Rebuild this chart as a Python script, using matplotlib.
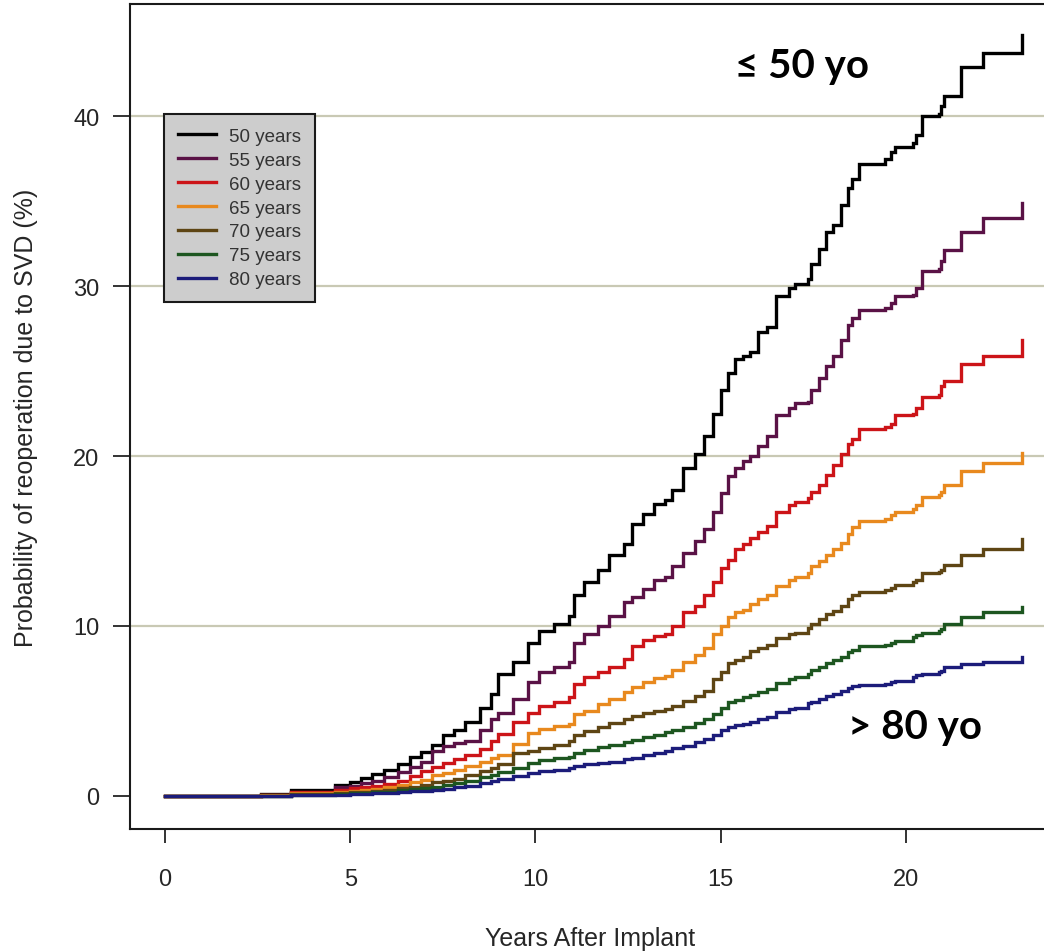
import matplotlib
matplotlib.use("Agg")
import matplotlib.pyplot as plt

# event times (years after implant) shared by all age curves
years = [0, 2.6, 3.4, 4.6, 5.0, 5.3, 5.6, 5.9, 6.3, 6.6,
         6.9, 7.2, 7.5, 7.8, 8.1, 8.5, 8.8, 9.0, 9.4, 9.8,
         10.1, 10.5, 10.9, 11.05, 11.3, 11.7, 12.0, 12.4, 12.6, 12.9,
         13.2, 13.5, 13.7, 14.0, 14.3, 14.55, 14.8, 15.0, 15.2, 15.4,
         15.6, 15.8, 16.0, 16.25, 16.5, 16.85, 17.0, 17.35, 17.45, 17.65,
         17.85, 18.05, 18.25, 18.45, 18.55, 18.75, 19.45, 19.6, 19.7, 20.2,
         20.27, 20.45, 20.9, 20.95, 21.05, 21.5, 22.1, 23.15]

age50 = [0, 0.1, 0.35, 0.65, 0.8, 1.05, 1.3, 1.55, 1.9, 2.3,
         2.6, 3.0, 3.6, 3.9, 4.35, 5.2, 6.0, 7.2, 7.9, 9.0,
         9.7, 10.1, 10.6, 11.8, 12.6, 13.3, 14.2, 14.8, 16.0, 16.6,
         17.2, 17.4, 18.0, 19.3, 20.1, 21.2, 22.5, 23.9, 24.9, 25.7,
         25.9, 26.1, 27.3, 27.6, 29.4, 29.9, 30.1, 30.4, 31.3, 32.2,
         33.2, 33.6, 34.8, 35.8, 36.3, 37.2, 37.5, 37.9, 38.2, 38.4,
         38.9, 40.0, 40.1, 40.6, 41.2, 42.9, 43.7, 44.8]

age55 = [0, 0.05, 0.25, 0.5, 0.6, 0.75, 0.9, 1.1, 1.4, 1.7,
         2.0, 2.65, 2.95, 3.1, 3.25, 3.9, 4.5, 4.9, 5.7, 6.7,
         7.3, 7.6, 7.9, 9.0, 9.5, 10.0, 10.6, 11.4, 11.7, 12.2,
         12.7, 12.9, 13.5, 14.3, 15.0, 15.7, 16.7, 17.8, 18.8, 19.3,
         19.7, 20.0, 20.6, 21.2, 22.4, 22.8, 23.1, 23.2, 23.9, 24.6,
         25.3, 25.9, 26.8, 27.7, 28.1, 28.6, 28.7, 29.0, 29.4, 29.5,
         29.9, 30.9, 31.0, 31.5, 32.1, 33.2, 34.0, 34.9]

age60 = [0, 0.05, 0.2, 0.35, 0.45, 0.5, 0.6, 0.7, 0.9, 1.15,
         1.45, 1.7, 1.95, 2.15, 2.4, 2.75, 3.2, 3.65, 4.35, 4.9,
         5.3, 5.5, 5.8, 6.6, 7.0, 7.3, 7.6, 8.05, 8.8, 9.2,
         9.4, 9.5, 10.0, 10.8, 11.2, 11.8, 12.6, 13.4, 13.9, 14.5,
         14.8, 15.2, 15.5, 15.9, 16.7, 17.1, 17.3, 17.5, 17.9, 18.3,
         18.9, 19.5, 20.1, 20.7, 21.0, 21.6, 21.7, 21.9, 22.4, 22.5,
         22.8, 23.5, 23.6, 24.1, 24.4, 25.4, 25.9, 26.8]

age65 = [0, 0.03, 0.15, 0.25, 0.3, 0.35, 0.42, 0.5, 0.65, 0.8,
         0.95, 1.2, 1.35, 1.5, 1.75, 2.0, 2.2, 2.4, 3.05, 3.7,
         3.95, 4.1, 4.25, 4.8, 5.0, 5.4, 5.7, 6.1, 6.4, 6.7,
         6.95, 7.05, 7.4, 7.9, 8.3, 8.7, 9.5, 10.0, 10.5, 10.8,
         10.95, 11.3, 11.6, 11.8, 12.35, 12.7, 12.9, 13.1, 13.5, 13.8,
         14.15, 14.5, 14.9, 15.4, 15.8, 16.2, 16.3, 16.5, 16.7, 16.9,
         17.1, 17.6, 17.7, 17.9, 18.3, 19.1, 19.6, 20.2]

age70 = [0, 0.02, 0.1, 0.18, 0.22, 0.25, 0.3, 0.35, 0.45, 0.55,
         0.65, 0.8, 0.9, 1.0, 1.2, 1.45, 1.65, 1.9, 2.5, 2.65,
         2.8, 3.0, 3.2, 3.6, 3.8, 4.05, 4.3, 4.55, 4.7, 4.85,
         5.0, 5.1, 5.3, 5.6, 5.85, 6.2, 6.9, 7.3, 7.8, 8.0,
         8.2, 8.5, 8.7, 8.85, 9.3, 9.5, 9.6, 9.9, 10.1, 10.4,
         10.7, 10.9, 11.2, 11.6, 11.8, 12.0, 12.1, 12.25, 12.4, 12.6,
         12.7, 13.1, 13.2, 13.3, 13.6, 14.2, 14.5, 15.1]

age75 = [0, 0.01, 0.07, 0.12, 0.15, 0.18, 0.21, 0.25, 0.32, 0.4,
         0.47, 0.55, 0.65, 0.75, 0.9, 1.1, 1.25, 1.4, 1.65, 1.95,
         2.1, 2.2, 2.3, 2.55, 2.7, 2.85, 3.0, 3.15, 3.3, 3.45,
         3.6, 3.75, 3.9, 4.05, 4.3, 4.5, 4.8, 5.2, 5.5, 5.65,
         5.8, 5.95, 6.1, 6.3, 6.65, 6.9, 7.0, 7.2, 7.4, 7.6,
         7.8, 8.0, 8.2, 8.45, 8.6, 8.8, 8.9, 9.0, 9.1, 9.35,
         9.45, 9.6, 9.7, 9.8, 10.1, 10.5, 10.8, 11.1]

age80 = [0, 0.01, 0.04, 0.08, 0.1, 0.12, 0.14, 0.16, 0.2, 0.26,
         0.3, 0.36, 0.42, 0.5, 0.6, 0.75, 0.9, 1.0, 1.15, 1.35,
         1.45, 1.55, 1.65, 1.75, 1.85, 1.95, 2.0, 2.15, 2.25, 2.4,
         2.5, 2.65, 2.8, 2.95, 3.15, 3.35, 3.6, 3.85, 4.05, 4.15,
         4.25, 4.35, 4.5, 4.65, 4.95, 5.1, 5.2, 5.45, 5.55, 5.7,
         5.85, 6.0, 6.2, 6.35, 6.45, 6.5, 6.6, 6.7, 6.75, 7.0,
         7.1, 7.2, 7.3, 7.35, 7.6, 7.75, 7.9, 8.2]

labels = ["50 years", "55 years", "60 years", "65 years", "70 years", "75 years", "80 years"]
colors = ["#000000", "#5a1246", "#cc1418", "#e8891e", "#5e4514", "#1d5620", "#1c1c7a"]
curves = [age50, age55, age60, age65, age70, age75, age80]

xticks = [0, 5, 10, 15, 20]
yticks = [0, 10, 20, 30, 40]

txt = "#262626"
plt.rcParams["font.family"] = ["Liberation Sans", "DejaVu Sans"]

fig = plt.figure(figsize=(10.44, 9.53), dpi=100)
ax = fig.add_axes([130 / 1044, 1 - 830 / 953, 920 / 1044, 825 / 953])

#horizontal guide lines (not at zero)
for y in yticks[1:]:
    ax.axhline(y, color="#c9c9b4", lw=1.6, zorder=0)

for vals, col, lab in zip(curves, colors, labels):
    ax.plot(years, vals, drawstyle="steps-post", color=col, lw=2.4, label=lab,
            solid_joinstyle="miter")

ax.set_xlim(-0.95, 23.9)
ax.set_ylim(-1.95, 46.6)
ax.set_xticks(xticks)
ax.set_yticks(yticks)
ax.tick_params(axis="x", length=10, width=1.4, pad=18, labelsize=17, colors="#333333", labelcolor=txt)
ax.tick_params(axis="y", length=12, width=1.4, pad=10, labelsize=17, colors="#333333", labelcolor=txt)
for s in ax.spines.values():
    s.set_linewidth(1.5)
    s.set_color("#1a1a1a")

ax.set_xlabel("Years After Implant", fontsize=18, color=txt)
ax.set_ylabel("Probability of reoperation due to SVD (%)", fontsize=18, color=txt)
ax.xaxis.set_label_coords(0.5, -0.118)
ax.yaxis.set_label_coords(-0.1, 0.5)

leg = ax.legend(loc="upper left", bbox_to_anchor=(0.037, 0.867), borderaxespad=0,
                fontsize=13.5, frameon=True, fancybox=False, handlelength=2.0,
                handletextpad=0.7, labelspacing=0.36, borderpad=0.75)
leg.get_frame().set_facecolor("#cdcdcd")
leg.get_frame().set_edgecolor("#1a1a1a")
leg.get_frame().set_linewidth(1.5)
leg.get_frame().set_alpha(1)
for t in leg.get_texts():
    t.set_color("#333333")

ax.text(17.2, 43.0, "≤ 50 yo", fontsize=29, fontweight="bold", ha="center", va="center",
        family=["Lato", "DejaVu Sans"])
ax.text(20.25, 4.1, "> 80 yo", fontsize=29, fontweight="bold", ha="center", va="center",
        family=["Lato", "DejaVu Sans"])

fig.savefig("out.png", dpi=100)
